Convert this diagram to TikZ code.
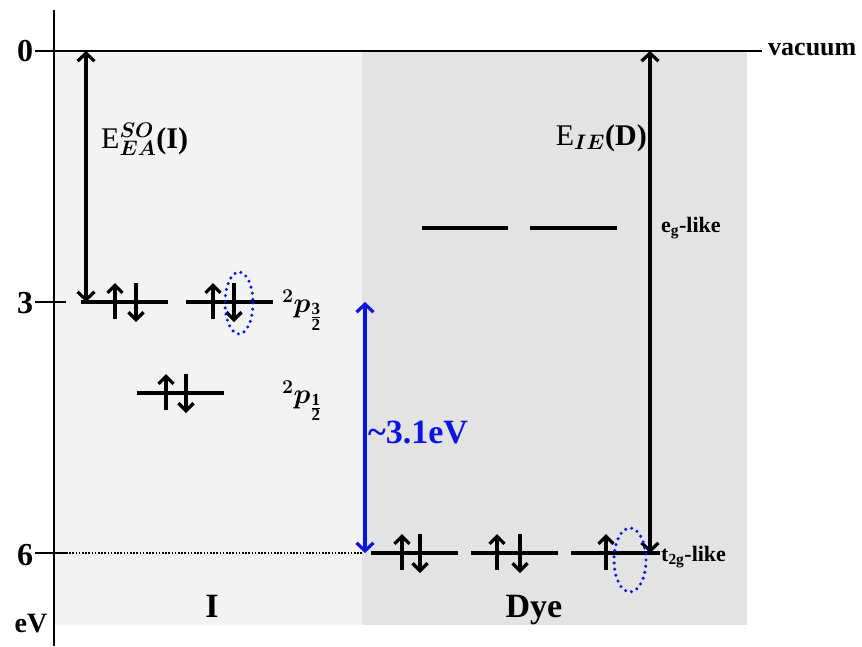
\RequirePackage{fix-cm}
\documentclass[tikz,border=0pt]{standalone}
\usepackage{fontspec}
\setmainfont{Liberation Serif}
\usepackage{amsmath}
\usetikzlibrary{arrows.meta}
\definecolor{lightpanel}{HTML}{F3F3F3}
\definecolor{darkpanel}{HTML}{E3E3E3}
\definecolor{myblue}{HTML}{0A14E6}
\newcommand{\fracdigit}[1]{\text{\bfseries\fontsize{17}{17}\selectfont #1}}
\begin{document}
\begin{tikzpicture}[x=1pt,y=-1pt,
  levelline/.style={line width=4pt},
  axisline/.style={line width=2.7pt},
  spinarrow/.style={line width=3.2pt,-{Straight Barb[length=7.5pt,width=15pt]}},
  gaparrow/.style={line width=3.2pt,{Straight Barb[length=8pt,width=17pt]}-{Straight Barb[length=8pt,width=17pt]}},
  holeellipse/.style={myblue,line width=3.4pt,line cap=round,dash pattern=on 0pt off 6.2pt},
  lbl/.style={inner sep=0pt,font=\bfseries\fontsize{22}{26}\selectfont},
  ticklbl/.style={inner sep=0pt,font=\bfseries\fontsize{32}{36}\selectfont},
  biglbl/.style={inner sep=0pt,font=\bfseries\fontsize{34}{38}\selectfont},
  elbl/.style={inner sep=0pt,font=\fontsize{30}{34}\selectfont},
  plbl/.style={inner sep=0pt,font=\boldmath\fontsize{28}{32}\selectfont}
]
\useasboundingbox (0,0) rectangle (862,646);
% panels
\fill[lightpanel] (54,51) rectangle (362,625);
\fill[darkpanel] (362,51) rectangle (747,625);
% axis and ticks
\draw[axisline] (54,10) -- (54,646);
\draw[axisline] (35,51) -- (762,51);
\draw[axisline] (35,302) -- (66,302);
\draw[axisline] (35,553) -- (66,553);
\node[ticklbl] (t0) at (25,51) {0};
\node[ticklbl] (t3) at (25,303) {3};
\node[ticklbl] (t6) at (25,555) {6};
\node[inner sep=0pt,font=\bfseries\fontsize{28}{32}\selectfont] (ev) at (31,624) {eV};
\node[inner sep=0pt,anchor=base west,font=\bfseries\fontsize{26}{30}\selectfont] (vac) at (768,55) {vacuum};
% coordinates
\coordinate (vacA) at (86,51);
\coordinate (lvA) at (86,302);
\coordinate (vacD) at (650,51);
\coordinate (lvD) at (650,553);
\coordinate (gapTop) at (365,302);
\coordinate (gapBot) at (365,553);
\coordinate (dotL) at (66,553);
\coordinate (dotR) at (362,553);
% I levels
\draw[levelline] (81,302) -- (168,302);
\draw[levelline] (186,302) -- (273,302);
\draw[levelline] (137,393) -- (224,393);
% Dye levels
\draw[levelline] (371,553) -- (458,553);
\draw[levelline] (471,553) -- (558,553);
\draw[levelline] (571,553) -- (660,553);
\draw[levelline] (422,228) -- (508,228);
\draw[levelline] (530,228) -- (617,228);
% spins I
\foreach \xu/\xd/\yl in {115/136/302, 213/234/302, 166/186/393}{
  \draw[spinarrow] (\xu,\yl+17) -- (\xu,\yl-19);
  \draw[spinarrow] (\xd,\yl-19) -- (\xd,\yl+20);
}
% spins Dye
\foreach \xu/\xd in {402/420, 497/520}{
  \draw[spinarrow] (\xu,570) -- (\xu,534);
  \draw[spinarrow] (\xd,534) -- (\xd,573);
}
\draw[spinarrow] (606,570) -- (606,534);
% energy arrows
\draw[gaparrow] (vacA) -- (lvA);
\draw[gaparrow] (vacD) -- (lvD);
\draw[gaparrow,myblue] (gapTop) -- (gapBot);
\draw[line width=1.3pt,dash pattern=on 1.6pt off 1.6pt] (dotL) -- (dotR);
% holes
\draw[holeellipse] (239,303) ellipse [x radius=14, y radius=31];
\draw[holeellipse] (630,560) ellipse [x radius=16, y radius=32];
% labels
\node[elbl,anchor=base west] (eea) at (101,148) {E$^{\boldsymbol{SO}}_{\boldsymbol{EA}}$\textbf{(I)}};
\node[elbl,anchor=base east] (eie) at (647,145) {E$_{\boldsymbol{IE}}$\textbf{(D)}};
\node[lbl,anchor=base west] (eg) at (661,232) {e\textsubscript{g}-like};
\node[lbl,anchor=base west] (t2g) at (661,561) {t\textsubscript{2g}-like};
\node[plbl] (p32) at (302,310) {$^2p_{\frac{\fracdigit{3}}{\fracdigit{2}}}$};
\node[plbl] (p12) at (302,401) {$^2p_{\frac{\fracdigit{1}}{\fracdigit{2}}}$};
\node[biglbl,myblue,anchor=base west] (gap) at (368,443) {\char`\~3.1eV};
\node[biglbl,anchor=base] (iLbl) at (212,617) {I};
\node[biglbl,anchor=base] (dyeLbl) at (534,617) {Dye};
\end{tikzpicture}
\end{document}
